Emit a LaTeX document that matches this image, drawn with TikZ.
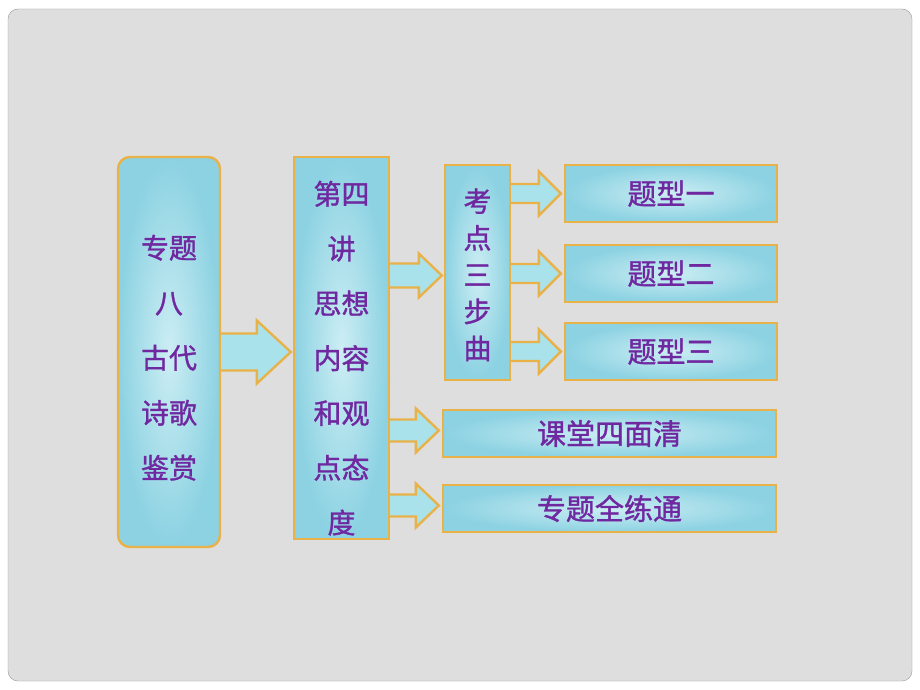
\documentclass[tikz,border=0pt]{standalone}
\usepackage{fontspec}
\usepackage{tikz}
\usetikzlibrary{calc,positioning}
\newfontfamily\cjk{Noto Sans CJK SC}[FakeBold=1.2]
\definecolor{drop}{RGB}{170,226,236}
\definecolor{dropdark}{RGB}{140,210,226}
\definecolor{rim}{RGB}{232,178,72}
\definecolor{ink}{RGB}{112,40,160}
\definecolor{slide}{RGB}{222,222,222}
\tikzset{
	box/.style={draw=rim, line width=2.4pt, inner color=drop!60!white, outer color=dropdark,
		text=ink, align=center, inner sep=0pt, font=\cjk},
	fatarrow/.style={draw=rim, line width=2.4pt, fill=drop, line join=miter},
}
% fat arrow from #1 to #2, half shaft #3, half head #4, head length #5
\newcommand\bigarrow[5]{
	\path[fatarrow] let \p1=#1, \p2=#2 in
		(\x1,\y1+#3) -- (\x2-#5,\y1+#3) -- (\x2-#5,\y1+#4) -- (\x2,\y1)
		-- (\x2-#5,\y1-#4) -- (\x2-#5,\y1-#3) -- (\x1,\y1-#3);
}
% invisible strut to push a text block down
\newcommand\pushdown[1]{\rule{0pt}{#1}}

\begin{document}
\begin{tikzpicture}[x=1pt, y=-1pt]
	\useasboundingbox (0,0) rectangle (920,690);
	\fill[white] (0,0) rectangle (920,690);
	\draw[draw=gray!80, fill=slide, rounded corners=10pt] (8,9) rectangle (912,681);

	% left column
	\node[box, rounded corners=12pt, minimum width=102pt, minimum height=390pt,
		font=\cjk\fontsize{28}{55}\selectfont] (topic) at (169,352)
		{\pushdown{35pt}专题\\八\\古代\\诗歌\\鉴赏};
	\node[box, minimum width=95pt, minimum height=382pt,
		font=\cjk\fontsize{28}{54.8}\selectfont] (lecture) at (341.5,348)
		{\pushdown{44pt}第四\\讲\\思想\\内容\\和观\\点态\\度};

	% middle and right
	\node[box, minimum width=65pt, minimum height=215pt,
		font=\cjk\fontsize{28}{36.8}\selectfont] (steps) at (477.5,272.5)
		{\pushdown{28pt}考\\点\\三\\步\\曲};
	\node[box, minimum width=212pt, minimum height=57pt,
		font=\cjk\fontsize{29}{35}\selectfont] (type1) at (671,193.5) {题型一};
	\node[box, minimum width=212pt, minimum height=57pt,
		font=\cjk\fontsize{29}{35}\selectfont] (type2) at (671,273.5) {题型二};
	\node[box, minimum width=212pt, minimum height=57pt,
		font=\cjk\fontsize{29}{35}\selectfont] (type3) at (671,351.5) {题型三};
	\node[box, minimum width=333pt, minimum height=47pt,
		font=\cjk\fontsize{29}{35}\selectfont] (class) at (609.5,433.5) {课堂四面清};
	\node[box, minimum width=333pt, minimum height=47pt,
		font=\cjk\fontsize{29}{35}\selectfont] (drill) at (609.5,508.5) {专题全练通};

	% arrows
	\bigarrow{(topic.east)}{($(lecture.west)+(-2,0)$)}{18.5pt}{31.5pt}{34pt}
	\bigarrow{($(lecture.east |- steps)+(0,3)$)}{($(steps.west |- lecture)+(-2,0)$)}{12pt}{22pt}{23pt}
	\bigarrow{(steps.east |- type1)}{($(type1.west)+(-3,0)$)}{9.5pt}{22pt}{22pt}
	\bigarrow{(steps.east |- type2)}{($(type2.west)+(-3,0)$)}{9.5pt}{22pt}{22pt}
	\bigarrow{(steps.east |- type3)}{($(type3.west)+(-3,0)$)}{9.5pt}{22pt}{22pt}
	\bigarrow{($(lecture.east |- class)+(0,-3)$)}{($(class.west)+(-3,0)$)}{11pt}{22pt}{23pt}
	\bigarrow{($(lecture.east |- drill)+(0,-3)$)}{($(drill.west)+(-3,0)$)}{11pt}{22pt}{23pt}
\end{tikzpicture}
\end{document}
